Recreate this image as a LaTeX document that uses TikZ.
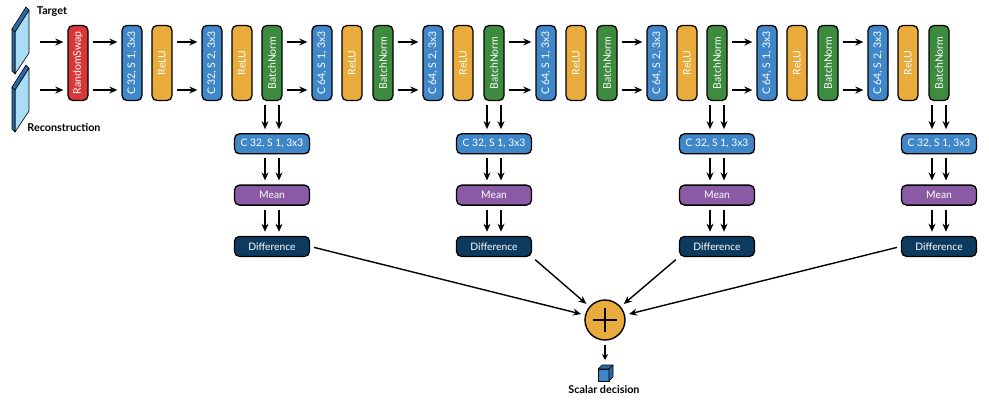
\documentclass[tikz,border=0pt]{standalone}
\usepackage{fontspec}
\setmainfont{Lato}
\usepackage{graphicx}
\usetikzlibrary{arrows.meta,positioning}

\definecolor{cred}{HTML}{D8383A}
\definecolor{cblue}{HTML}{3F87C9}
\definecolor{corange}{HTML}{E9AB3C}
\definecolor{cgreen}{HTML}{3C8B3F}
\definecolor{cpurple}{HTML}{8B5AA5}
\definecolor{cnavy}{HTML}{0D3B60}
\definecolor{cslab}{HTML}{A9DDF6}
\definecolor{cslabdark}{HTML}{2A6AA6}

\tikzset{
  blk/.style={draw=black,line width=1.3pt,rounded corners=5pt,minimum width=20pt,
    minimum height=75pt,inner sep=0pt,text=white,font=\fontsize{10.5}{12}\selectfont},
  conv/.style={blk,fill=cblue},
  relu/.style={blk,fill=corange},
  bnorm/.style={blk,fill=cgreen},
  swap/.style={blk,fill=cred},
  wide/.style={draw=black,line width=1.3pt,rounded corners=5pt,minimum width=75pt,
    minimum height=20pt,inner sep=0pt,text=white,font=\fontsize{10.3}{12}\selectfont},
  arr/.style={-{Stealth[length=8pt,width=7pt]},line width=1.4pt,shorten <=4pt,shorten >=4pt},
  slab/.style={draw=black,line width=0.6pt,line join=round},
  lbl/.style={font=\bfseries\fontsize{10.8}{12}\selectfont},
}

\begin{document}
\begin{tikzpicture}[x=1pt,y=-1pt]
  \useasboundingbox (0,0) rectangle (989,400);

  % input slabs
  \foreach \dy in {0,58} {
    \begin{scope}[yshift=-\dy pt]
      \draw[slab,fill=cslab] (15,32) -- (29,10) -- (29,53) -- (15,74) -- cycle;
      \draw[slab,fill=cslabdark] (12,29) -- (26,7) -- (29,10) -- (15,32) -- cycle;
      \draw[slab,fill=cslabdark] (12,29) -- (15,32) -- (15,74) -- (12,71) -- cycle;
    \end{scope}
  }
  \node[lbl] (tgt) at (52,12) {Target};
  \node[lbl] (rec) at (64,128) {Reconstruction};
  \coordinate (in1) at (36,42);
  \coordinate (in2) at (36,90);

  % main chain
  \foreach \n/\x/\s/\t in {1/78/swap/RandomSwap, 2/132/conv/{C 32, S 1, 3x3}, 3/162/relu/ReLU,
      4/212/conv/{C 32, S 2, 3x3}, 5/242/relu/ReLU, 6/272/bnorm/BatchNorm,
      7/322/conv/{C 64, S 1, 3x3}, 8/352/relu/ReLU, 9/383/bnorm/BatchNorm,
      10/433/conv/{C 64, S 2, 3x3}, 11/463/relu/ReLU, 12/494/bnorm/BatchNorm,
      13/546/conv/{C 64, S 1, 3x3}, 14/576/relu/ReLU, 15/607/bnorm/BatchNorm,
      16/657/conv/{C 64, S 2, 3x3}, 17/687/relu/ReLU, 18/717/bnorm/BatchNorm,
      19/767/conv/{C 64, S 1, 3x3}, 20/797/relu/ReLU, 21/828/bnorm/BatchNorm,
      22/878/conv/{C 64, S 2, 3x3}, 23/908/relu/ReLU, 24/939/bnorm/BatchNorm}
    \node[\s] (b\n) at (\x,63) {\rotatebox{90}{\t}};

  \path[arr] (in1) edge (b1.west |- in1)
  (in2) edge (b1.west |- in2);
  \foreach \a/\b in {1/2,3/4,6/7,9/10,12/13,15/16,18/19,21/22}
    \path[arr] (b\a.east |- in1) edge (b\b.west |- in1)
    (b\a.east |- in2) edge (b\b.west |- in2);

  % side branches
  \foreach \k/\b in {1/6,2/12,3/18,4/24} {
    \node[wide,fill=cblue,below=32pt of b\b] (c\k) {C 32, S 1, 3x3};
    \node[wide,fill=cpurple,below=30pt of c\k] (m\k) {Mean};
    \node[wide,fill=cnavy,below=30pt of m\k] (d\k) {Difference};
    \foreach \s in {-7,7}
      \path[arr] ([xshift=\s pt]b\b.south) edge ([xshift=\s pt]c\k.north)
      ([xshift=\s pt]c\k.south) edge ([xshift=\s pt]m\k.north)
      ([xshift=\s pt]m\k.south) edge ([xshift=\s pt]d\k.north);
  }

  % sum and output
  \node[circle,draw=black,line width=1.4pt,fill=corange,minimum size=40pt] (sum) at (605,320) {};
  \draw[line width=2pt] ([xshift=-12pt]sum.center) -- ([xshift=12pt]sum.center);
  \draw[line width=2pt] ([yshift=-12pt]sum.center) -- ([yshift=12pt]sum.center);
  \path[arr] (d1.east) edge (sum)
  (d2.south east) edge (sum)
  (d3.south west) edge (sum)
  (d4.west) edge (sum);
  \coordinate (out) at (605,364);
  \path[arr,-{Stealth[length=6pt,width=6pt]}] (sum) edge (out);

  \draw[slab,fill=cblue] (598,369) -- (609,369) -- (609,381) -- (598,381) -- cycle;
  \draw[slab,fill=cslabdark] (598,369) -- (602,365) -- (613,365) -- (609,369) -- cycle;
  \draw[slab,fill=cslabdark] (609,369) -- (613,365) -- (613,377) -- (609,381) -- cycle;
  \node[lbl] (dec) at (604,390) {Scalar decision};
\end{tikzpicture}
\end{document}
